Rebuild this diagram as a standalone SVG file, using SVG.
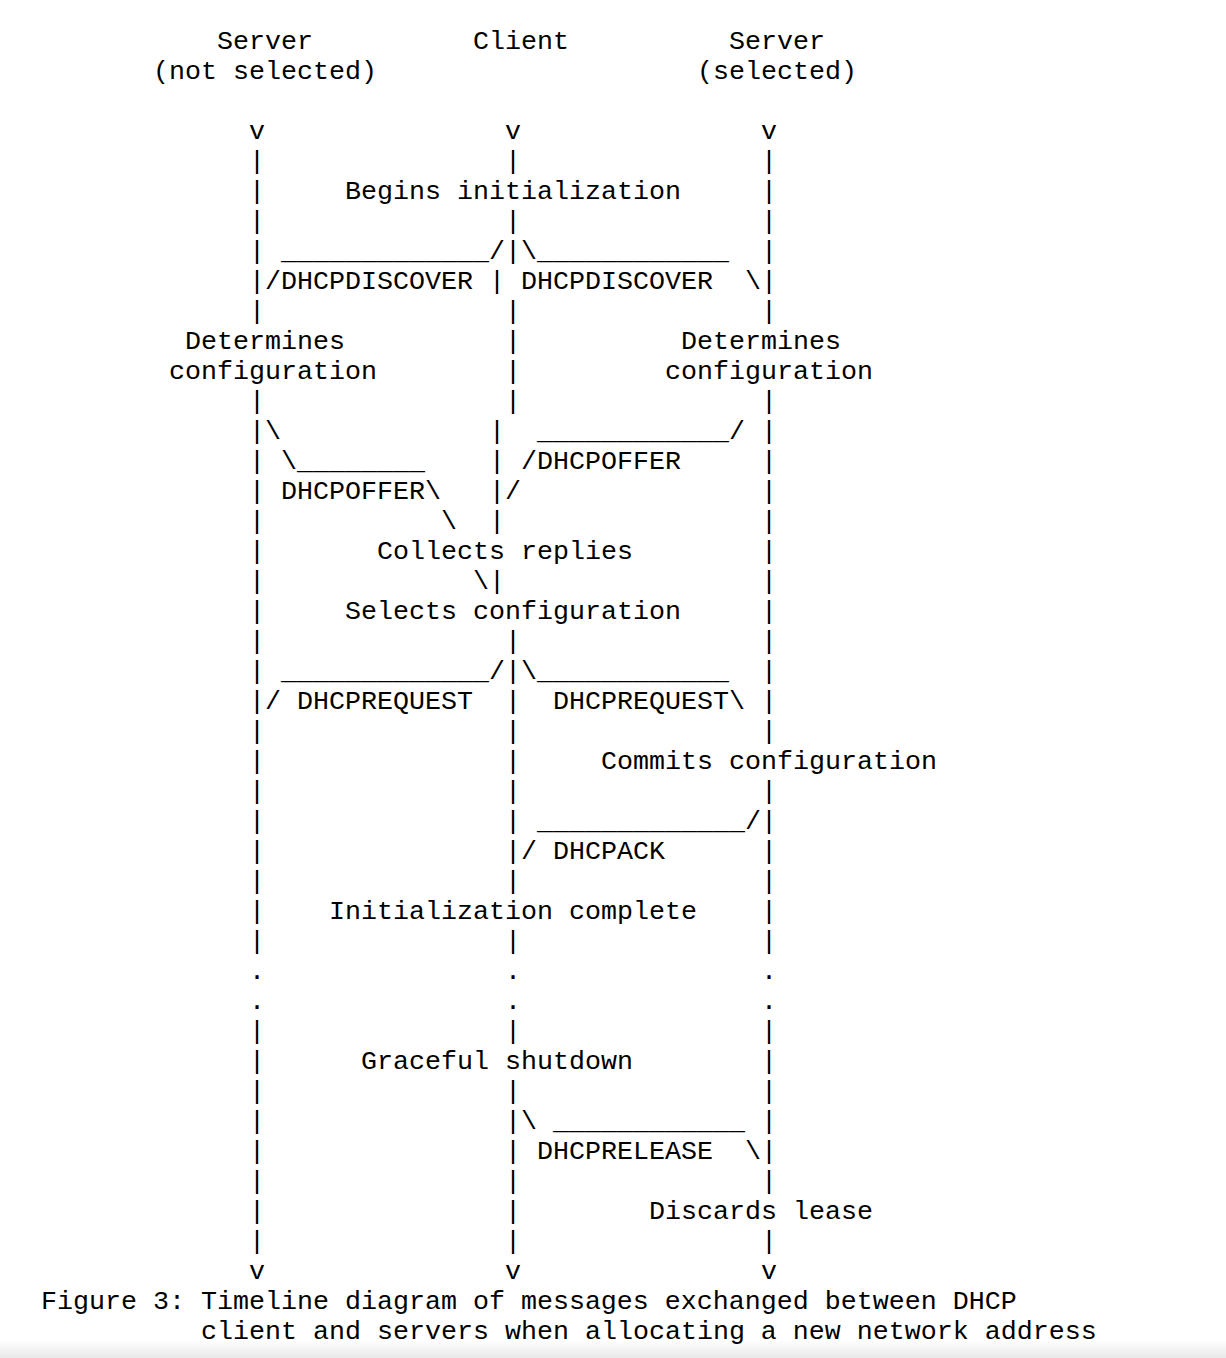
<svg xmlns="http://www.w3.org/2000/svg" width="1226" height="1358" viewBox="0 0 1226 1358" xml:space="preserve">
<defs>
<style>
text { font-family: "Liberation Mono", "Courier New", monospace; font-size: 26.667px; fill: #000; white-space: pre; }
</style>
<linearGradient id="fade" x1="0" y1="0" x2="0" y2="1">
<stop offset="0" stop-color="#ffffff"/>
<stop offset="1" stop-color="#e9e9e9"/>
</linearGradient>
</defs>
<rect x="0" y="0" width="1226" height="1358" fill="#ffffff"/>
<rect x="0" y="1340" width="1226" height="18" fill="url(#fade)"/>
<g transform="translate(0,2)">
<g id="node-server-not-selected">
<text x="217" y="47">Server</text>
<text x="153" y="77">(not selected)</text>
</g>
<g id="node-client"><text x="473" y="47">Client</text></g>
<g id="node-server-selected">
<text x="729" y="47">Server</text>
<text x="697" y="77">(selected)</text>
</g>
<g id="node-begins-init"><text x="345" y="197">Begins initialization</text></g>
<g id="node-determines-left">
<text x="185" y="347">Determines</text>
<text x="169" y="377">configuration</text>
</g>
<g id="node-determines-right">
<text x="681" y="347">Determines</text>
<text x="665" y="377">configuration</text>
</g>
<g id="node-collects"><text x="377" y="557">Collects replies</text></g>
<g id="node-selects"><text x="345" y="617">Selects configuration</text></g>
<g id="node-commits"><text x="601" y="767">Commits configuration</text></g>
<g id="node-init-complete"><text x="329" y="917">Initialization complete</text></g>
<g id="node-graceful"><text x="361" y="1067">Graceful shutdown</text></g>
<g id="node-discards"><text x="649" y="1217">Discards lease</text></g>
<g id="caption">
<text x="41" y="1307">Figure 3: Timeline diagram of messages exchanged between DHCP</text>
<text x="201" y="1337">client and servers when allocating a new network address</text>
</g>

<g id="connectors">
<text x="249" y="137">v               v               v</text>
<text x="249" y="167">|               |               |</text>
<text x="249" y="197">|</text><text x="761" y="197">|</text>
<text x="249" y="227">|               |               |</text>
<text x="249" y="257">| _____________/|\____________  |</text>
<text x="249" y="287">|/DHCPDISCOVER | DHCPDISCOVER  \|</text>
<text x="249" y="317">|               |               |</text>
<text x="505" y="347">|</text>
<text x="505" y="377">|</text>
<text x="249" y="407">|               |               |</text>
<text x="249" y="437">|\             |  ____________/ |</text>
<text x="249" y="467">| \________    | /DHCPOFFER     |</text>
<text x="249" y="497">| DHCPOFFER\   |/               |</text>
<text x="249" y="527">|           \  |                |</text>
<text x="249" y="557">|</text><text x="761" y="557">|</text>
<text x="249" y="587">|             \|                |</text>
<text x="249" y="617">|</text><text x="761" y="617">|</text>
<text x="249" y="647">|               |               |</text>
<text x="249" y="677">| _____________/|\____________  |</text>
<text x="249" y="707">|/ DHCPREQUEST  |  DHCPREQUEST\ |</text>
<text x="249" y="737">|               |               |</text>
<text x="249" y="767">|               |</text>
<text x="249" y="797">|               |               |</text>
<text x="249" y="827">|               | _____________/|</text>
<text x="249" y="857">|               |/ DHCPACK      |</text>
<text x="249" y="887">|               |               |</text>
<text x="249" y="917">|</text><text x="761" y="917">|</text>
<text x="249" y="947">|               |               |</text>
<text x="249" y="977">.               .               .</text>
<text x="249" y="1007">.               .               .</text>
<text x="249" y="1037">|               |               |</text>
<text x="249" y="1067">|</text><text x="761" y="1067">|</text>
<text x="249" y="1097">|               |               |</text>
<text x="249" y="1127">|               |\ ____________ |</text>
<text x="249" y="1157">|               | DHCPRELEASE  \|</text>
<text x="249" y="1187">|               |               |</text>
<text x="249" y="1217">|               |</text>
<text x="249" y="1247">|               |               |</text>
<text x="249" y="1277">v               v               v</text>
</g>
</g>
</svg>
